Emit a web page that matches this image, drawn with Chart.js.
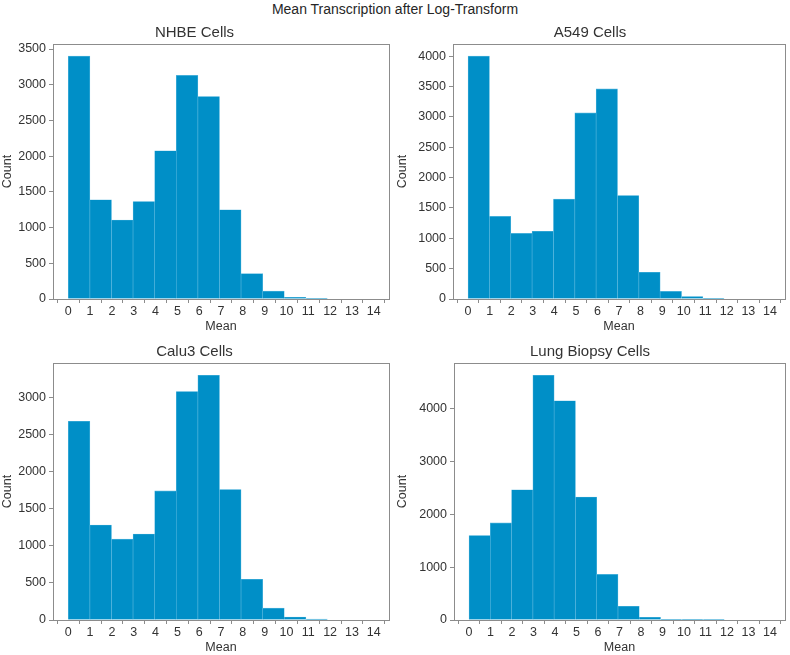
<!DOCTYPE html>
<html>
<head>
<meta charset="utf-8">
<script src="https://cdn.jsdelivr.net/npm/chart.js@4"></script>
<style>
  body { margin: 0; background: #fff; }
  #wrap { position: relative; width: 790px; height: 655px; font-family: "Liberation Sans", Arial, sans-serif; }
  #sup { position: absolute; left: 0; top: 1px; width: 790px; text-align: center; font-size: 14px; color: #262626; }
  canvas { position: absolute; }
</style>
</head>
<body>
<div id="wrap">
  <div id="sup">Mean Transcription after Log-Transform</div>
  <canvas id="c1"></canvas>
  <canvas id="c2"></canvas>
  <canvas id="c3"></canvas>
  <canvas id="c4"></canvas>
</div>
<script>
// bin centres (bins are ~0.99 wide, starting at 0)
const binCenters = [0.495, 1.485, 2.475, 3.465, 4.455, 5.445, 6.435, 7.425, 8.415, 9.405, 10.395, 11.385];
const xTicks = [0, 1, 2, 3, 4, 5, 6, 7, 8, 9, 10, 11, 12, 13, 14];

const nhbeCounts = [3400, 1390, 1105, 1365, 2075, 3130, 2835, 1250, 355, 110, 25, 10];
const a549Counts = [4000, 1360, 1080, 1115, 1645, 3065, 3460, 1705, 440, 125, 40, 12];
const calu3Counts = [2680, 1280, 1090, 1160, 1740, 3080, 3300, 1760, 550, 160, 40, 12];
const lungCounts = [1600, 1840, 2470, 4640, 4155, 2330, 865, 260, 52, 15, 3, 1];

const nhbeYTicks = [0, 500, 1000, 1500, 2000, 2500, 3000, 3500];
const a549YTicks = [0, 500, 1000, 1500, 2000, 2500, 3000, 3500, 4000];
const calu3YTicks = [0, 500, 1000, 1500, 2000, 2500, 3000];
const lungYTicks = [0, 1000, 2000, 3000, 4000];

const titles = ["NHBE Cells", "A549 Cells", "Calu3 Cells", "Lung Biopsy Cells"];

const textColor = "#333333";
const spineColor = "#8c8c8c";
const barColor = "#008fc7";
const fontFam = "Liberation Sans";

const boxPlugin = {
  id: "box",
  afterDatasetsDraw(chart) {
    const a = chart.chartArea;
    const ctx = chart.ctx;
    ctx.save();
    ctx.strokeStyle = spineColor;
    ctx.lineWidth = 1;
    ctx.strokeRect(Math.round(a.left) + 0.5, Math.round(a.top) + 0.5,
      Math.round(a.right - a.left), Math.round(a.bottom - a.top));
    ctx.restore();
  }
};

function makeHist(id, pos, title, counts, yTicks, yMax, yWidth, padRight) {
  const cv = document.getElementById(id);
  cv.style.left = pos[0] + "px";
  cv.style.top = pos[1] + "px";
  cv.width = pos[2];
  cv.height = pos[3];
  new Chart(cv, {
    type: "bar",
    data: {
      datasets: [{
        data: binCenters.map((x, i) => ({ x: x, y: counts[i] })),
        backgroundColor: barColor,
        borderColor: "#5ab8df",
        borderWidth: 0.6,
        barPercentage: 1,
        categoryPercentage: 1,
      }],
    },
    options: {
      responsive: false,
      animation: false,
      layout: { padding: { right: padRight, left: 0, top: 0, bottom: 0 } },
      plugins: {
        legend: { display: false },
        tooltip: { enabled: false },
        title: {
          display: true,
          text: title,
          color: textColor,
          font: { size: 15, family: fontFam, weight: "normal" },
          padding: { top: 2, bottom: 2 },
        },
      },
      scales: {
        x: {
          type: "linear",
          min: -0.7,
          max: 14.7,
          offset: false,
          afterBuildTicks: (s) => { s.ticks = xTicks.map(v => ({ value: v })); },
          afterFit: (s) => { s.height = 35; },
          grid: { display: true, drawOnChartArea: false, drawTicks: true, tickLength: 4, color: spineColor },
          border: { display: false },
          ticks: { color: textColor, font: { size: 12.5, family: fontFam }, padding: 1, maxRotation: 0, autoSkip: false, callback: (v) => String(v) },
          title: { display: true, text: "Mean", color: textColor, font: { size: 12.5, family: fontFam }, padding: { top: 3, bottom: 0 } },
        },
        y: {
          min: 0,
          max: yMax,
          afterBuildTicks: (s) => { s.ticks = yTicks.map(v => ({ value: v })); },
          afterFit: (s) => { s.width = yWidth; },
          grid: { display: true, drawOnChartArea: false, drawTicks: true, tickLength: 4, color: spineColor },
          border: { display: false },
          ticks: { color: textColor, font: { size: 12.5, family: fontFam }, padding: 3, autoSkip: false, callback: (v) => String(v) },
          title: { display: true, text: "Count", color: textColor, font: { size: 12.5, family: fontFam }, padding: 0 },
        },
      },
    },
    plugins: [boxPlugin],
  });
}

makeHist("c1", [0, 22, 395, 312], titles[0], nhbeCounts, nhbeYTicks, 3570, 53, 6);
makeHist("c2", [395, 22, 395, 312], titles[1], a549Counts, a549YTicks, 4200, 58, 5);
makeHist("c3", [0, 341, 395, 314], titles[2], calu3Counts, calu3YTicks, 3465, 53, 6);
makeHist("c4", [395, 341, 395, 314], titles[3], lungCounts, lungYTicks, 4872, 59, 5);
</script>
</body>
</html>
